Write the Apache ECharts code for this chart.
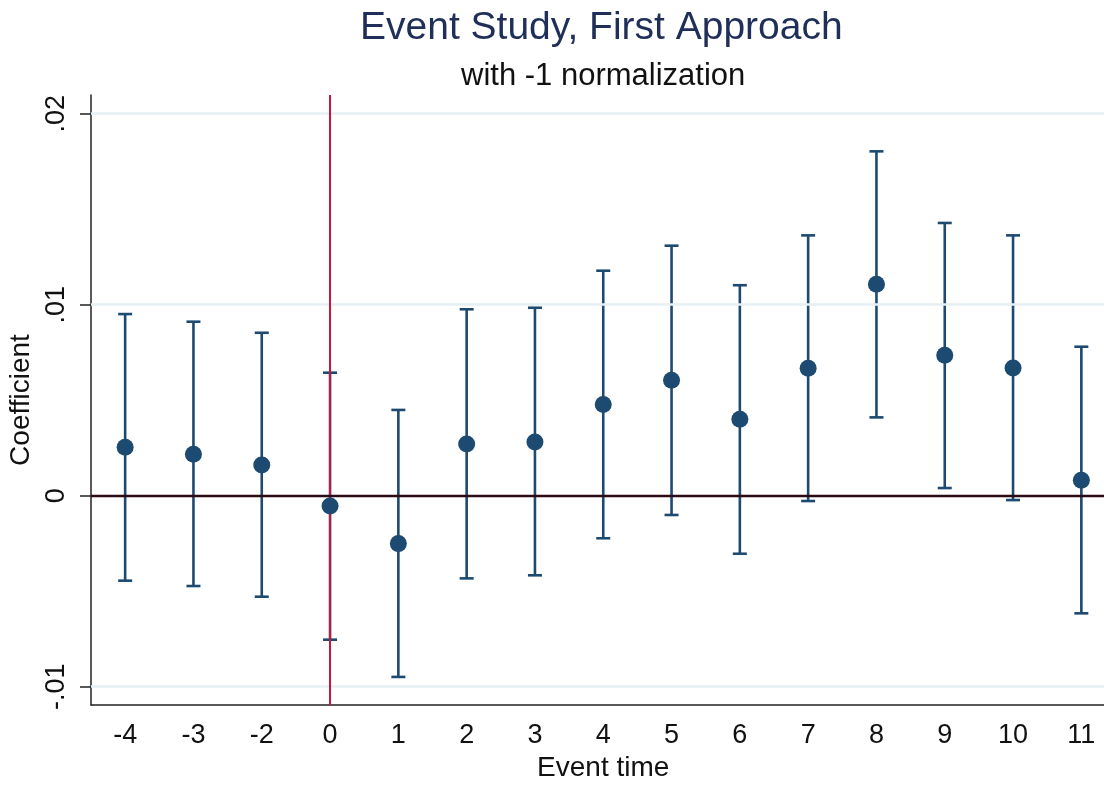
<!DOCTYPE html>
<html>
<head>
<meta charset="utf-8">
<script src="https://cdn.jsdelivr.net/npm/echarts@6/dist/echarts.min.js"></script>
<style>html,body{margin:0;padding:0;background:#fff;}#chart{width:1104px;height:785px;}</style>
</head>
<body>
<div id="chart"></div>
<script>
var categories = ['-4','-3','-2','0','1','2','3','4','5','6','7','8','9','10','11'];
var coef  = [0.00253, 0.00217, 0.00161, -0.00054, -0.00251, 0.00271, 0.00281, 0.00478, 0.00604, 0.00400, 0.00667, 0.01107, 0.00735, 0.00669, 0.00081];
var upper = [0.00951, 0.00911, 0.00853, 0.00644, 0.00449, 0.00976, 0.00984, 0.01178, 0.01309, 0.01102, 0.01363, 0.01803, 0.01428, 0.01363, 0.00780];
var lower = [-0.00445, -0.00473, -0.00529, -0.00754, -0.00949, -0.00433, -0.00417, -0.00223, -0.00101, -0.00304, -0.00028, 0.00410, 0.00040, -0.00023, -0.00616];
var yTicks = [-0.01, 0, 0.01, 0.02];
var yTickLabels = ['-.01', '0', '.01', '.02'];
var eventLine = '0';

var NAVY = '#1d4a70';
var FONT = 'Liberation Sans, Arial, sans-serif';
var chart = echarts.init(document.getElementById('chart'), null, {renderer: 'canvas'});

var errData = categories.map(function (c, i) { return [i, lower[i], upper[i]]; });
var ptData = categories.map(function (c, i) { return [i, coef[i]]; });

var option = {
  backgroundColor: '#ffffff',
  animation: false,
  title: [
    {text: 'Event Study, First Approach', left: 355, top: 4,
     textStyle: {fontFamily: FONT, fontSize: 39, fontWeight: 'normal', color: '#1f2f5a'}},
    {text: 'with -1 normalization', left: 456, top: 56,
     textStyle: {fontFamily: FONT, fontSize: 31, fontWeight: 'normal', color: '#111'}}
  ],
  grid: {left: 91, top: 95, bottom: 80, right: -11.5, containLabel: false, outerBoundsMode: 'none'},
  xAxis: {
    type: 'category',
    data: categories,
    boundaryGap: true,
    name: 'Event time',
    nameLocation: 'middle',
    nameGap: 49,
    nameTextStyle: {fontFamily: FONT, fontSize: 28, color: '#111'},
    axisLine: {onZero: false, lineStyle: {color: '#222', width: 1.5}},
    axisTick: {alignWithLabel: true, length: 11, lineStyle: {color: '#222', width: 1.5}},
    axisLabel: {fontFamily: FONT, fontSize: 27, color: '#111', margin: 17, interval: 0},
    splitLine: {show: false}
  },
  yAxis: {
    type: 'value',
    min: -0.01096,
    max: 0.02098,
    name: 'Coefficient',
    nameLocation: 'middle',
    nameGap: 56,
    nameRotate: 90,
    nameTextStyle: {fontFamily: FONT, fontSize: 28, color: '#111'},
    axisLine: {show: true, onZero: false, lineStyle: {color: '#222', width: 1.5}},
    axisTick: {show: true, length: 11, customValues: yTicks, lineStyle: {color: '#222', width: 1.5}},
    axisLabel: {
      fontFamily: FONT, fontSize: 27, color: '#111',
      rotate: 90, margin: 21, customValues: yTicks,
      formatter: function (v) {
        for (var i = 0; i < yTicks.length; i++) { if (Math.abs(v - yTicks[i]) < 1e-9) return yTickLabels[i]; }
        return '';
      }
    },
    splitLine: {show: false}
  },
  series: [
    {
      type: 'line', data: [], silent: true, z: 1,
      markLine: {
        silent: true, symbol: 'none', label: {show: false},
        lineStyle: {color: '#e6eff3', width: 2.5, type: 'solid'},
        data: yTicks.filter(function (t) { return t !== 0; }).map(function (t) { return {yAxis: t}; })
      }
    },
    {
      type: 'line', data: [], silent: true, z: 2,
      markLine: {
        silent: true, symbol: 'none', label: {show: false},
        lineStyle: {color: '#c8173f', width: 2, type: 'solid'},
        data: [{xAxis: eventLine}]
      }
    },
    {
      type: 'custom', z: 3,
      data: errData,
      renderItem: function (params, api) {
        var x = api.value(0);
        var lo = api.coord([x, api.value(1)]);
        var hi = api.coord([x, api.value(2)]);
        var hw = 7;
        var st = {stroke: NAVY, lineWidth: 2.6, fill: null};
        return {
          type: 'group',
          children: [
            {type: 'line', shape: {x1: lo[0], y1: lo[1], x2: hi[0], y2: hi[1]}, style: st},
            {type: 'line', shape: {x1: lo[0] - hw, y1: lo[1], x2: lo[0] + hw, y2: lo[1]}, style: st},
            {type: 'line', shape: {x1: hi[0] - hw, y1: hi[1], x2: hi[0] + hw, y2: hi[1]}, style: st}
          ]
        };
      }
    },
    {
      type: 'line', data: [], silent: true, z: 4,
      markLine: {
        silent: true, symbol: 'none', label: {show: false},
        lineStyle: {color: '#2a0a14', width: 2.4, type: 'solid'},
        data: [{yAxis: 0}]
      }
    },
    {
      type: 'scatter', z: 5,
      data: ptData,
      symbol: 'circle', symbolSize: 17,
      itemStyle: {color: NAVY, opacity: 1}
    }
  ]
};
chart.setOption(option);
</script>
</body>
</html>
